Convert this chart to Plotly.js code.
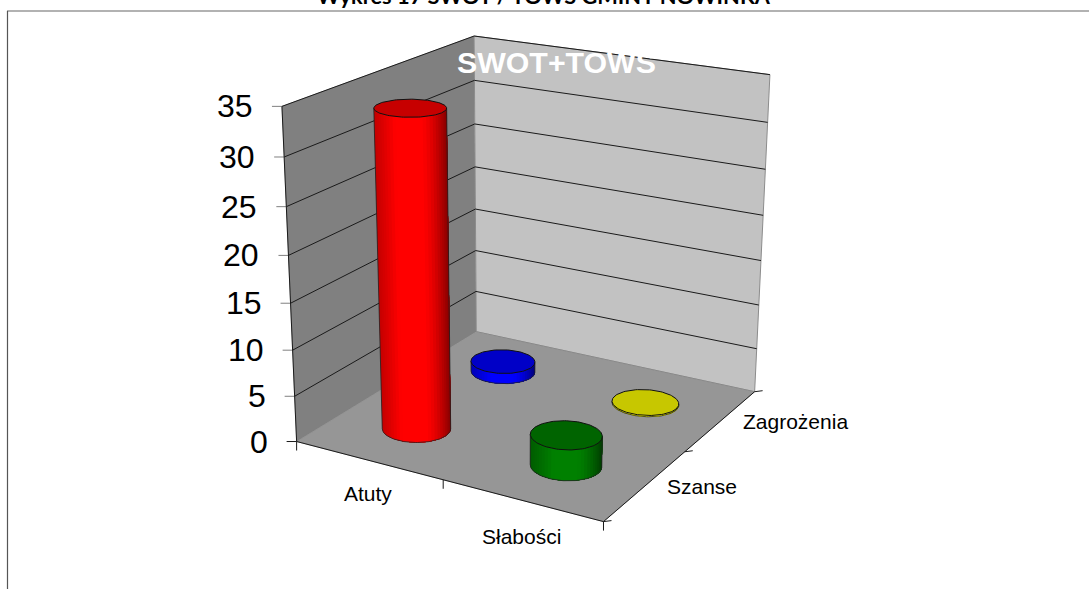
<!DOCTYPE html>
<html>
<head>
<meta charset="utf-8">
<script src="https://cdn.plot.ly/plotly-3.0.1.min.js"></script>
<style>html,body{margin:0;padding:0;background:#fff;overflow:hidden}#c{width:1089px;height:589px}</style>
</head>
<body>
<div id="c"></div>
<script>
// ---- data ----
var categories = ['Atuty', 'Słabości'];
var seriesNames = ['Szanse', 'Zagrożenia'];
var szanse = [34, 3.3];
var zagrozenia = [1.2, 0.15];
var valueTicks = [0, 5, 10, 15, 20, 25, 30, 35];
var seriesColors = [[[255,0,0],[0,128,0]], [[0,0,255],[255,255,0]]];
var zMax = 35;

// ---- box calibration: (u, v, w) -> page pixels, solved as a projective camera ----
var calib = [
  [0,0,0,297,441.5],[1,0,0,603,522],[1,1,0,755,391],[0,1,0,476,332],
  [0,0,1,282,106],[0,1,1,474,36],[1,1,1,770,75]
];
function solveCamera(pts){
  var A=[],b=[];
  pts.forEach(function(p){
    var u=p[0],v=p[1],w=p[2],x=p[3],y=p[4];
    A.push([u,v,w,1,0,0,0,0,-x*u,-x*v,-x*w]);b.push(x);
    A.push([0,0,0,0,u,v,w,1,-y*u,-y*v,-y*w]);b.push(y);
  });
  var n=11,M=[];
  for(var i=0;i<n;i++){M.push([]);for(var j=0;j<=n;j++){var s=0;
    for(var k=0;k<A.length;k++)s+=A[k][i]*(j<n?A[k][j]:b[k]);M[i].push(s);}}
  for(i=0;i<n;i++){var pv=i;for(j=i+1;j<n;j++)if(Math.abs(M[j][i])>Math.abs(M[pv][i]))pv=j;
    var t=M[i];M[i]=M[pv];M[pv]=t;
    for(j=0;j<n;j++){if(j===i)continue;var f=M[j][i]/M[i][i];for(k=i;k<=n;k++)M[j][k]-=f*M[i][k];}}
  return M.map(function(r,i){return r[n]/r[i];});
}
var C=solveCamera(calib);
function P(u,v,z){
  var w=z/zMax,d=C[8]*u+C[9]*v+C[10]*w+1;
  return [(C[0]*u+C[1]*v+C[2]*w+C[3])/d,(C[4]*u+C[5]*v+C[6]*w+C[7])/d];
}
var traces=[];
function poly(pts,fill,lineColor,lineWidth){
  var xs=pts.map(function(p){return p[0]}),ys=pts.map(function(p){return p[1]});
  xs.push(xs[0]);ys.push(ys[0]);
  traces.push({type:'scatter',mode:'lines',x:xs,y:ys,fill:'toself',fillcolor:fill,
    line:{color:lineColor||fill,width:lineWidth===undefined?0:lineWidth},hoverinfo:'skip',showlegend:false});
}
function path(segs,color,width){
  var xs=[],ys=[];
  segs.forEach(function(s){s.forEach(function(p){xs.push(p[0]);ys.push(p[1]);});xs.push(null);ys.push(null);});
  traces.push({type:'scatter',mode:'lines',x:xs,y:ys,line:{color:color,width:width},hoverinfo:'skip',showlegend:false});
}

// walls and floor
poly([P(0,0,0),P(0,1,0),P(0,1,zMax),P(0,0,zMax)],'#808080','#808080',0.5);
poly([P(0,1,0),P(1,1,0),P(1,1,zMax),P(0,1,zMax)],'#c2c2c2','#8c8c8c',1);
poly([P(0,0,0),P(1,0,0),P(1,1,0),P(0,1,0)],'#969696','#808080',0.5);

// gridlines
var grid=[];
valueTicks.slice(1).forEach(function(z){grid.push([P(0,0,z),P(0,1,z),P(1,1,z)]);});
path(grid,'#1a1a1a',1);

// axis lines and ticks
var ax=[[P(0,0,0),P(0,0,zMax)],[P(0,0,0),P(1,0,0),P(1,1,0)]];
var minor=[];
valueTicks.forEach(function(z){var p=P(0,0,z);(z===0?ax:minor).push([[p[0]-10,p[1]],p]);});
[0,0.5,1].forEach(function(u){var p=P(u,0,0);ax.push([p,[p[0],p[1]+9]]);});
[0,0.5,1].forEach(function(v){var p=P(1,v,0);ax.push([p,[p[0]+8,p[1]-1]]);});
path(minor,'#808080',1);
path(ax,'#1a1a1a',1);

// cylinders
var ru=0.102,rv=0.096,N=120;
function shade(c,t){
  var f = t<0.3 ? 0.72+0.28*(t/0.3) : (t<0.62 ? 1 : 1-0.55*Math.pow((t-0.62)/0.38,1.5));
  return 'rgb('+c.map(function(k){return Math.round(k*f)}).join(',')+')';
}
function cylinder(ci,si,val){
  var u=(ci+0.5)/categories.length,v=(si+0.5)/seriesNames.length,c=seriesColors[si][ci];
  var base=[],top=[];
  for(var i=0;i<N;i++){var a=2*Math.PI*i/N,cu=u+ru*Math.cos(a),cv=v+rv*Math.sin(a);
    base.push(P(cu,cv,0));top.push(P(cu,cv,val));}
  var minx=1e9,maxx=-1e9;
  base.concat(top).forEach(function(p){minx=Math.min(minx,p[0]);maxx=Math.max(maxx,p[0]);});
  var vis=[];
  for(i=0;i<N;i++){
    var j=(i+1)%N,q=[base[i],base[j],top[j],top[i]],area=0;
    for(var k=0;k<4;k++){var m=q[k],n=q[(k+1)%4];area+=m[0]*n[1]-n[0]*m[1];}
    if(area<0)vis.push(i);
  }
  var set={};vis.forEach(function(i){set[i]=1});
  var st=vis.filter(function(i){return !set[(i+N-1)%N]})[0];
  var run=[];
  for(i=0;i<=vis.length;i++)run.push((st+i)%N);
  // each band is painted over the previous ones up to the far silhouette, leaving no seams
  var order=run[0]!==undefined&&base[run[0]][0]<base[run[run.length-1]][0]?run:run.slice().reverse();
  for(i=0;i<order.length-1;i+=2){
    var tail=order.slice(i);
    var pts=tail.map(function(a){return base[a]}).concat(tail.slice().reverse().map(function(a){return top[a]}));
    var tt=(base[order[i]][0]+top[order[i]][0])/2;
    poly(pts,shade(c,(tt-minx)/(maxx-minx)));
  }
  var baseArc=run.map(function(a){return base[a]});
  path([[top[run[0]],base[run[0]]],baseArc,[baseArc[baseArc.length-1],top[run[run.length-1]]]],'#222',0.8);
  var dark=c.map(function(k){return Math.round(k*0.78)});
  poly(top,'rgb('+dark.join(',')+')','#111',1);
}
cylinder(0,1,zagrozenia[0]);
cylinder(1,1,zagrozenia[1]);
cylinder(0,0,szanse[0]);
cylinder(1,0,szanse[1]);

// text
var ann=[];
function label(x,y,text,size,opts){
  var o={xref:'x',yref:'y',x:x,y:y,text:text,showarrow:false,xanchor:'center',yanchor:'middle',
    font:{family:'"Liberation Sans",Arial,sans-serif',size:size,color:'#000'}};
  for(var k in (opts||{}))o[k]=opts[k];
  ann.push(o);
}
valueTicks.forEach(function(z){var p=P(0,0,z);
  label(p[0]-27,p[1],String(z),32,{xanchor:'right'});});
label(368,493,categories[0],21);
label(521,536,categories[1],21);
label(702,486,seriesNames[0],21);
label(795,421,seriesNames[1],21);
label(556,62,'SWOT+TOWS',30.3,{font:{family:'"Liberation Sans",Arial,sans-serif',size:30.3,color:'#fff',weight:700}});
label(544,11,'Wykres 17 SWOT / TOWS GMINY NOWINKA',21.8,{yanchor:'bottom',font:{family:'Lato,sans-serif',size:21.8,color:'#000',weight:700}});

var layout={
  width:1089,height:589,margin:{l:0,r:0,t:0,b:0},showlegend:false,
  paper_bgcolor:'#fff',plot_bgcolor:'#fff',
  xaxis:{range:[0,1089],visible:false,fixedrange:true},
  yaxis:{range:[589,0],visible:false,fixedrange:true},
  annotations:ann,
  shapes:[
    {type:'line',xref:'x',yref:'y',x0:7,x1:1089,y0:11,y1:11,line:{color:'#999',width:1.6},layer:'below'},
    {type:'line',xref:'x',yref:'y',x0:7.5,x1:7.5,y0:11,y1:589,line:{color:'#555',width:1.2},layer:'below'}
  ]
};
Plotly.newPlot('c',traces,layout,{staticPlot:true,displayModeBar:false});
</script>
</body>
</html>
